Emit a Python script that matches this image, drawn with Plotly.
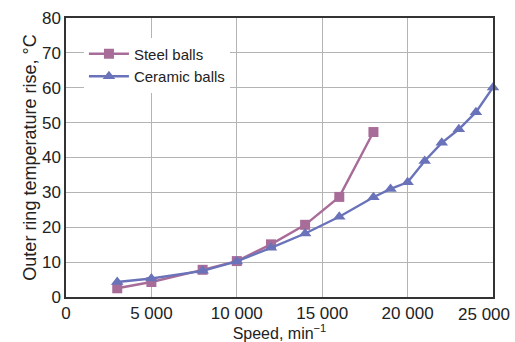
import plotly.graph_objects as go

# Outer ring temperature rise vs. speed
steel_speed = [3000, 5000, 8000, 10000, 12000, 14000, 16000, 18000]
steel_temp = [2.5, 4.3, 7.8, 10.3, 15.1, 20.7, 28.7, 47.3]

ceramic_speed = [3000, 5000, 8000, 10000, 12000, 14000, 16000, 18000,
                 19000, 20000, 21000, 22000, 23000, 24000, 25000]
ceramic_temp = [4.3, 5.3, 7.5, 10.2, 14.1, 18.2, 23.0, 28.6,
                31.0, 32.9, 39.0, 44.2, 48.1, 53.0, 60.1]

x_ticks = [0, 5000, 10000, 15000, 20000, 25000]
x_tick_labels = ["0", "5 000", "10 000", "15 000", "20 000", "25 000"]
y_ticks = [0, 10, 20, 30, 40, 50, 60, 70, 80]

STEEL = "#A86C98"
CERAMIC = "#6A73B9"
FONT = "Liberation Sans, Arial, sans-serif"
TEXT = "#222222"
TICK_SIZE = 17

fig = go.Figure()
fig.add_trace(go.Scatter(
    x=steel_speed, y=steel_temp, name="Steel balls", mode="lines+markers",
    line=dict(color=STEEL, width=2.4),
    marker=dict(symbol="square", size=10, color=STEEL),
    cliponaxis=False,
))
fig.add_trace(go.Scatter(
    x=ceramic_speed, y=ceramic_temp, name="Ceramic balls", mode="lines+markers",
    line=dict(color=CERAMIC, width=2.4),
    marker=dict(symbol="triangle-up", size=11, color=CERAMIC),
    cliponaxis=False,
))

axis_common = dict(
    showgrid=True, gridcolor="#B4B4B4", gridwidth=1.2,
    showline=True, linecolor="#333333", linewidth=1.5, mirror=True,
    ticks="", zeroline=False, automargin=False,
    tickfont=dict(family=FONT, size=TICK_SIZE, color=TEXT),
)

# the last x label is drawn as an annotation, right-aligned so it stays on the page
fig.update_xaxes(
    range=[0, 25000], tickvals=x_ticks,
    ticktext=x_tick_labels[:-1] + [""],
    title=dict(text="Speed, min<sup>−1</sup>", font=dict(family=FONT, size=16, color=TEXT), standoff=4),
    **axis_common,
)
fig.add_annotation(
    x=x_ticks[-1], xref="x", y=0, yref="paper",
    text=x_tick_labels[-1], showarrow=False,
    xanchor="right", yanchor="top", xshift=19, yshift=-6,
    font=dict(family=FONT, size=TICK_SIZE, color=TEXT),
)
fig.update_yaxes(
    range=[0, 80], tickvals=y_ticks,
    title=dict(text="Outer ring temperature rise, °C", font=dict(family=FONT, size=18, color=TEXT), standoff=1),
    **axis_common,
)

fig.update_layout(
    width=515, height=342,
    margin=dict(l=66, r=22, t=18, b=45),
    paper_bgcolor="white", plot_bgcolor="white",
    font=dict(family=FONT, color=TEXT),
    showlegend=True,
    legend=dict(
        x=0.042, y=0.93, xanchor="left", yanchor="top",
        bgcolor="white", borderwidth=0,
        font=dict(family=FONT, size=15, color=TEXT),
        itemwidth=40, tracegroupgap=0,
    ),
)

fig.write_html("out.html")
